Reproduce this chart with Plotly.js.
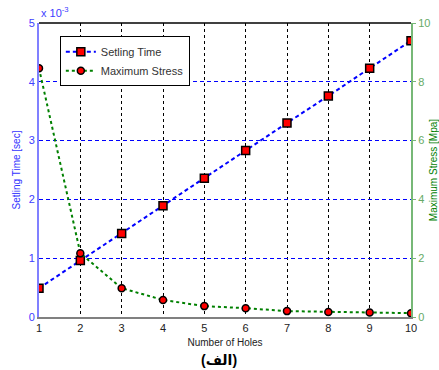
<!DOCTYPE html>
<html><head><meta charset="utf-8">
<script src="https://cdn.plot.ly/plotly-3.0.1.min.js"></script>
<style>html,body{margin:0;padding:0;background:#fff}#c{width:439px;height:370px}</style>
</head><body><div id="c"></div>
<script>
const holes = [1,2,3,4,5,6,7,8,9,10];
const settlingTime = [0.49,0.96,1.42,1.89,2.36,2.83,3.30,3.76,4.23,4.70]; // x 10^-3 sec
const maxStress = [8.46,2.17,0.98,0.58,0.37,0.30,0.20,0.17,0.15,0.13]; // MPa
const leftTicks = [0,1,2,3,4,5];
const rightTicks = [0,2,4,6,8,10];

const font = 'Arial, "Liberation Sans", sans-serif';
const traces = [
  {x: holes, y: settlingTime, name: 'Setling Time', type: 'scatter', mode: 'lines+markers',
   line: {color: '#0000ff', width: 2, dash: '4px,3px'},
   marker: {symbol: 'square', size: 8, color: '#ff0000', line: {color: '#000', width: 1.5}}},
  {x: holes, y: maxStress, name: 'Maximum Stress', type: 'scatter', mode: 'lines+markers', yaxis: 'y2',
   line: {color: '#008000', width: 2, dash: 'dot'},
   marker: {symbol: 'circle', size: 7, color: '#ff0000', line: {color: '#000', width: 1.5}}}
];
const layout = {
  width: 439, height: 370,
  margin: {l: 39, r: 28, t: 23, b: 53},
  paper_bgcolor: '#fff', plot_bgcolor: '#fff',
  font: {family: font, size: 11, color: '#222'},
  showlegend: true,
  legend: {x: 0.056, y: 0.955, xanchor: 'left', yanchor: 'top', bgcolor: '#fff',
           bordercolor: '#000', borderwidth: 1, font: {size: 11, color: '#333'},
           tracegroupgap: 0, itemwidth: 30},
  xaxis: {range: [1, 10], tickvals: holes, showgrid: true, gridcolor: '#000', griddash: '3px,3px', gridwidth: 1,
          showline: true, linecolor: '#808080', linewidth: 2, zeroline: false,
          ticks: '', tickfont: {size: 11, color: '#222'},
          title: {text: 'Number of Holes', font: {size: 10, color: '#222'}, standoff: 6}},
  yaxis: {range: [0, 5], tickvals: leftTicks, showgrid: true, gridcolor: '#0000ff', griddash: '4px,3px', gridwidth: 1,
          showline: true, linecolor: '#8080ff', linewidth: 2, zeroline: false,
          ticks: '', tickfont: {size: 11, color: '#4040ff'},
          title: {text: 'Setling Time [sec]', font: {size: 10, color: '#3333ff'}, standoff: 6}},
  yaxis2: {range: [0, 10], tickvals: rightTicks, overlaying: 'y', side: 'right', showgrid: false,
           showline: true, linecolor: '#77b877', linewidth: 2, zeroline: false,
           ticks: 'outside', ticklen: 3, tickcolor: '#77b877', tickfont: {size: 11, color: '#66aa66'},
           title: {text: 'Maximum Stress [Mpa]', font: {size: 10, color: '#008000'}, standoff: 4}},
  shapes: [{type: 'line', xref: 'paper', yref: 'paper', x0: 0, x1: 1, y0: 1, y1: 1, line: {color: '#000', width: 1.5}}],
  annotations: [
    {xref: 'paper', yref: 'paper', x: 0.0, y: 1.0, xanchor: 'left', yanchor: 'bottom', showarrow: false,
     text: 'x 10<sup>-3</sup>', font: {size: 11, color: '#4040ff'}, yshift: 2, xshift: 0},
    {xref: 'paper', yref: 'paper', x: 0.5, y: 0, xanchor: 'center', yanchor: 'top', showarrow: false,
     text: '<b>(الف)</b>', font: {size: 14, color: '#000', family: 'Arial, "DejaVu Sans", sans-serif'}, yshift: -33, xshift: -6}
  ]
};
Plotly.newPlot('c', traces, layout, {displayModeBar: false, staticPlot: true});
</script></body></html>
